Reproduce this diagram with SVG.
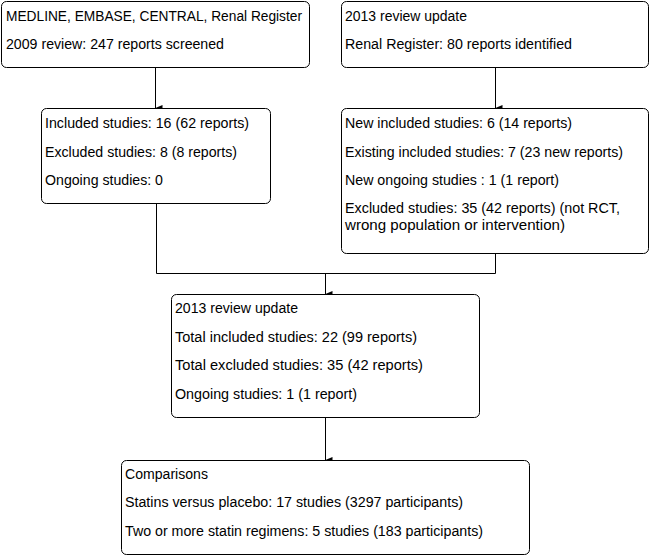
<svg xmlns="http://www.w3.org/2000/svg" width="650" height="556" viewBox="0 0 650 556">
<style>
.box{fill:#fff;stroke:#000;stroke-width:1}
text{font-family:"Liberation Sans",Arial,sans-serif;font-size:14px;fill:#000}
.c{fill:none;stroke:#000;stroke-width:1}
</style>
<defs>
<marker id="ah" markerWidth="6" markerHeight="7" refX="3" refY="7" orient="auto-start-reverse" markerUnits="userSpaceOnUse" viewBox="0 0 6 7">
<path d="M0,0 L6,0 L3,7 Z" fill="#000"/>
</marker>
</defs>
<rect width="650" height="556" fill="#fff"/>
<g id="connectors">
<path class="c" d="M155.5,67 V108" marker-end="url(#ah)"/>
<path class="c" d="M495.5,67 V108" marker-end="url(#ah)"/>
<path class="c" d="M156.5,203 V273.5 H495.5 V253"/>
<path class="c" d="M325.5,273.5 V294" marker-end="url(#ah)"/>
<path class="c" d="M325.5,417 V460" marker-end="url(#ah)"/>
</g>
<g id="n1">
<rect class="box" x="1.5" y="1.5" width="308" height="66" rx="5"/>
<text x="6" y="21" textLength="296" lengthAdjust="spacingAndGlyphs">MEDLINE, EMBASE, CENTRAL, Renal Register</text>
<text x="6" y="49" textLength="218" lengthAdjust="spacingAndGlyphs">2009 review: 247 reports screened</text>
</g>
<g id="n2">
<rect class="box" x="341.5" y="1.5" width="307" height="66" rx="5"/>
<text x="345" y="21" textLength="122" lengthAdjust="spacingAndGlyphs">2013 review update</text>
<text x="345" y="49" textLength="227" lengthAdjust="spacingAndGlyphs">Renal Register: 80 reports identified</text>
</g>
<g id="n3">
<rect class="box" x="41.5" y="108.5" width="229" height="95" rx="5"/>
<text x="45" y="128" textLength="204" lengthAdjust="spacingAndGlyphs">Included studies: 16 (62 reports)</text>
<text x="45" y="157" textLength="192" lengthAdjust="spacingAndGlyphs">Excluded studies: 8 (8 reports)</text>
<text x="45" y="185" textLength="118" lengthAdjust="spacingAndGlyphs">Ongoing studies: 0</text>
</g>
<g id="n4">
<rect class="box" x="341.5" y="108.5" width="307" height="145" rx="5"/>
<text x="345" y="128" textLength="227" lengthAdjust="spacingAndGlyphs">New included studies: 6 (14 reports)</text>
<text x="345" y="157" textLength="278" lengthAdjust="spacingAndGlyphs">Existing included studies: 7 (23 new reports)</text>
<text x="345" y="185" textLength="214" lengthAdjust="spacingAndGlyphs">New ongoing studies : 1 (1 report)</text>
<text x="345" y="213" textLength="275" lengthAdjust="spacingAndGlyphs">Excluded studies: 35 (42 reports) (not RCT,</text>
<text x="345" y="230" textLength="220" lengthAdjust="spacingAndGlyphs">wrong population or intervention)</text>
</g>
<g id="n5">
<rect class="box" x="171.5" y="294.5" width="308" height="123" rx="5"/>
<text x="175" y="313" textLength="123" lengthAdjust="spacingAndGlyphs">2013 review update</text>
<text x="175" y="342" textLength="242" lengthAdjust="spacingAndGlyphs">Total included studies: 22 (99 reports)</text>
<text x="175" y="370" textLength="248" lengthAdjust="spacingAndGlyphs">Total excluded studies: 35 (42 reports)</text>
<text x="175" y="399" textLength="182" lengthAdjust="spacingAndGlyphs">Ongoing studies: 1 (1 report)</text>
</g>
<g id="n6">
<rect class="box" x="121.5" y="460.5" width="408" height="94" rx="5"/>
<text x="125" y="479" textLength="83" lengthAdjust="spacingAndGlyphs">Comparisons</text>
<text x="125" y="507" textLength="338" lengthAdjust="spacingAndGlyphs">Statins versus placebo: 17 studies (3297 participants)</text>
<text x="125" y="536" textLength="358" lengthAdjust="spacingAndGlyphs">Two or more statin regimens: 5 studies (183 participants)</text>
</g>
</svg>
